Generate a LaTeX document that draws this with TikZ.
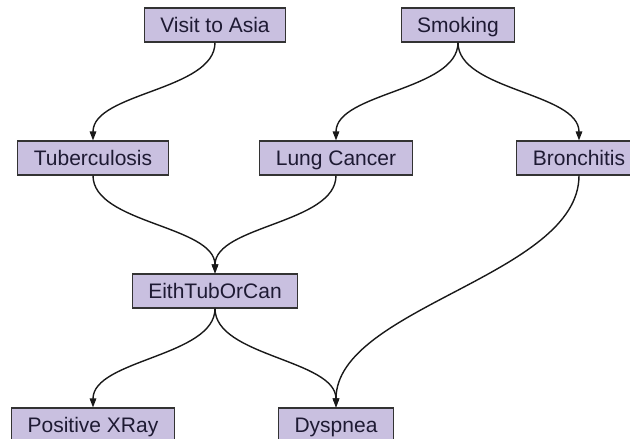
\documentclass[tikz,border=0pt]{standalone}
\usepackage{fontspec}
\setmainfont{Liberation Sans}
\usetikzlibrary{arrows.meta}
\definecolor{varfill}{HTML}{C9C0E0}
\definecolor{vartext}{HTML}{1E1A33}

\begin{document}
\begin{tikzpicture}[
    x=1pt, y=-1pt,
    var/.style={draw=black!80, fill=varfill, line width=1.1pt, text=vartext, inner xsep=16pt, inner ysep=0pt, minimum height=34pt, text height=15pt, text depth=0pt, font=\fontsize{21pt}{24pt}\selectfont},
    arrow/.style={-{Triangle[length=9pt, width=6.5pt]}, line width=1.4pt, black!90}
]
\useasboundingbox (0,0) rectangle (630,439);
\node[var] (asia) at (215,25) {Visit to Asia};
\node[var] (smoke) at (458,25) {Smoking};
\node[var] (tub) at (93,158) {Tuberculosis};
\node[var] (lung) at (336,158) {Lung Cancer};
\node[var] (bronc) at (579,158) {Bronchitis};
\node[var] (either) at (215,291) {EithTubOrCan};
\node[var] (xray) at (93,425) {Positive XRay};
\node[var] (dysp) at (336,425) {Dyspnea};
\draw[arrow] (asia.south) .. controls +(0,48) and +(0,-48) .. (tub.north);
\draw[arrow] (smoke.south) .. controls +(0,48) and +(0,-48) .. (lung.north);
\draw[arrow] (smoke.south) .. controls +(0,48) and +(0,-48) .. (bronc.north);
\draw[arrow] (tub.south) .. controls +(0,48) and +(0,-48) .. (either.north);
\draw[arrow] (lung.south) .. controls +(0,48) and +(0,-48) .. (either.north);
\draw[arrow] (either.south) .. controls +(0,48) and +(0,-48) .. (xray.north);
\draw[arrow] (either.south) .. controls +(0,48) and +(0,-48) .. (dysp.north);
\draw[arrow] (bronc.south) .. controls +(0,100) and +(0,-100) .. (dysp.north);
\end{tikzpicture}
\end{document}
